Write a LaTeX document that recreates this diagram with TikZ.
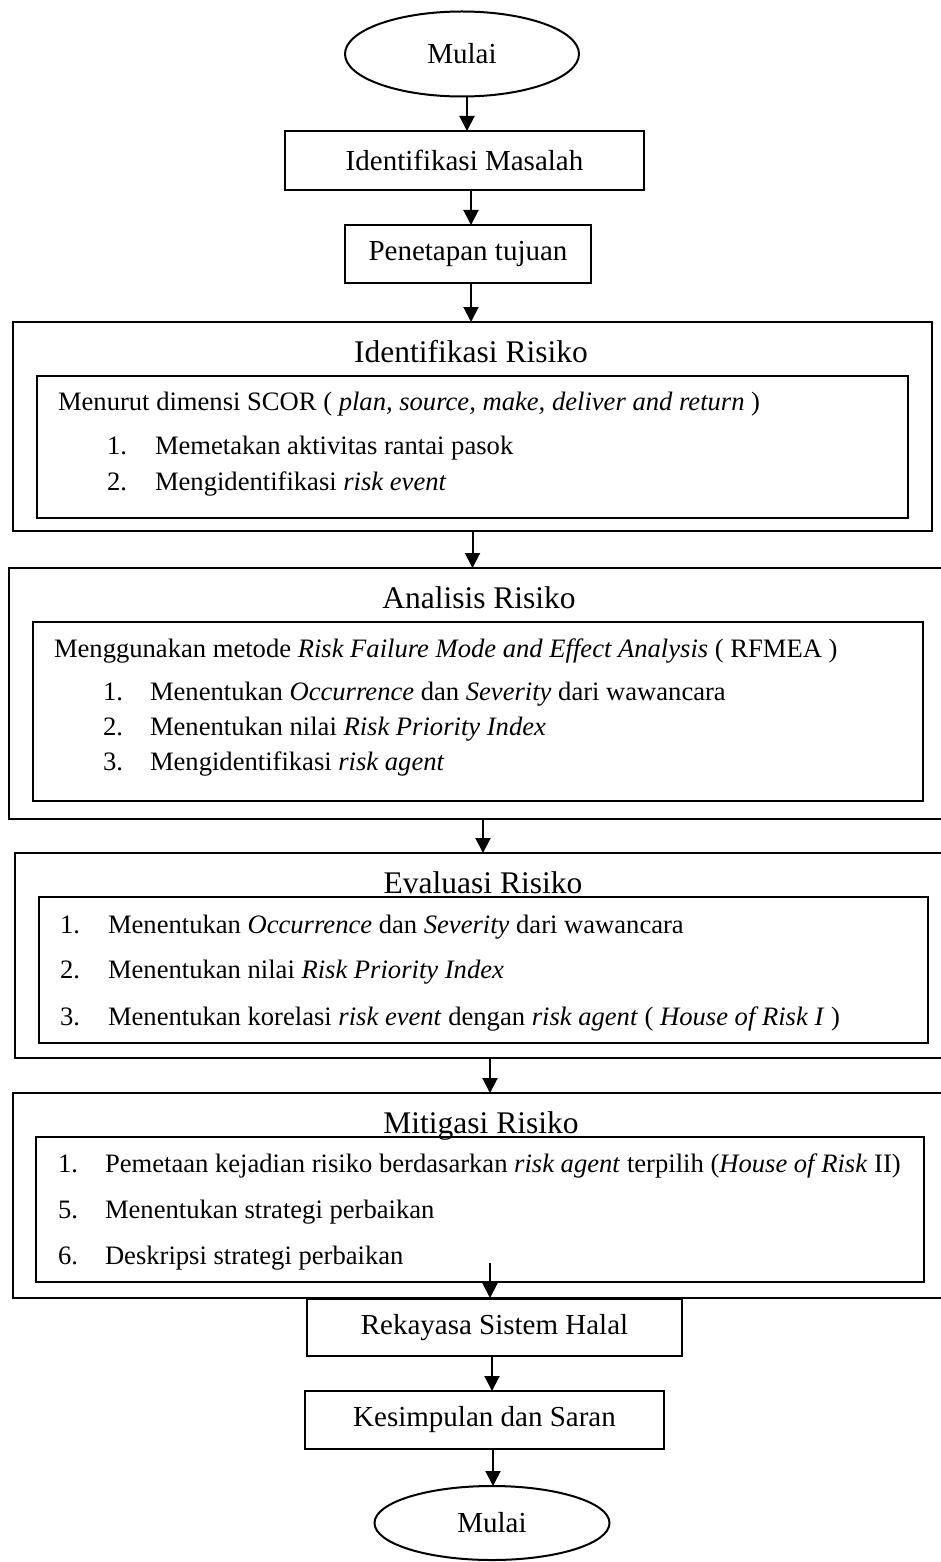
\documentclass[tikz,border=0pt]{standalone}
\usepackage{fontspec}
\setmainfont{Liberation Serif}
\usetikzlibrary{arrows.meta,shapes.geometric,calc}
\begin{document}
\begin{tikzpicture}[x=1pt,y=-1pt,
  every node/.style={inner sep=0pt, outer sep=0pt},
  box/.style={draw, line width=2pt, anchor=north west, font=\fontsize{29}{34}\selectfont, align=center},
  oval/.style={draw, ellipse, line width=2pt, font=\fontsize{29}{34}\selectfont},
  frame/.style={draw, line width=2.3pt, anchor=north west},
  ttl/.style={font=\fontsize{31.5}{36}\selectfont, anchor=base},
  txt/.style={font=\fontsize{26.6}{32}\selectfont, anchor=base west},
  arr/.style={line width=2pt, -{Triangle[length=15pt,width=15pt]}}]
\useasboundingbox (0,0) rectangle (941,1562);
\clip (0,0) rectangle (941,1562);
\fill[white] (0,0) rectangle (941,1562);

% top nodes
\node[oval, minimum width=234pt, minimum height=85pt] (start) at (462,54) {Mulai};
\node[box, minimum width=359pt, minimum height=59pt] (idm) at (285,131) {Identifikasi Masalah};
\node[box, minimum width=246pt, minimum height=58pt] (pt) at (345,225) {Penetapan tujuan};

% Identifikasi Risiko
\node[frame, minimum width=919pt, minimum height=209pt] (idr) at (13,322) {};
\node[frame, minimum width=871pt, minimum height=142pt] (idri) at (37,376) {};
\node[ttl] (idrt) at (471,362) {Identifikasi Risiko};
\node[txt] (idr0) at (58,410) {Menurut dimensi SCOR ( \textit{plan, source, make, deliver and return} )};
\node[txt] (idr1n) at (107,454) {1.};
\node[txt] (idr1) at (155,454) {Memetakan aktivitas rantai pasok};
\node[txt] (idr2n) at (107,490) {2.};
\node[txt] (idr2) at (155,490) {Mengidentifikasi \textit{risk event}};

% Analisis Risiko
\node[frame, minimum width=950pt, minimum height=251pt] (ana) at (9,568) {};
\node[frame, minimum width=890pt, minimum height=179pt] (anai) at (33,622) {};
\node[ttl] (anat) at (479,608) {Analisis Risiko};
\node[txt] (ana0) at (54,657) {Menggunakan metode \textit{Risk Failure Mode and Effect Analysis} ( RFMEA )};
\node[txt] (ana1n) at (103,700) {1.};
\node[txt] (ana1) at (150,700) {Menentukan \textit{Occurrence} dan \textit{Severity} dari wawancara};
\node[txt] (ana2n) at (103,735) {2.};
\node[txt] (ana2) at (150,735) {Menentukan nilai \textit{Risk Priority Index}};
\node[txt] (ana3n) at (103,770) {3.};
\node[txt] (ana3) at (150,770) {Mengidentifikasi \textit{risk agent}};

% Evaluasi Risiko
\node[frame, minimum width=944pt, minimum height=205pt] (eva) at (15,853) {};
\node[frame, minimum width=889pt, minimum height=146pt] (evai) at (39,897) {};
\node[ttl] (evat) at (483,893) {Evaluasi Risiko};
\node[txt] (eva1n) at (60,933) {1.};
\node[txt] (eva1) at (108,933) {Menentukan \textit{Occurrence} dan \textit{Severity} dari wawancara};
\node[txt] (eva2n) at (60,978) {2.};
\node[txt] (eva2) at (108,978) {Menentukan nilai \textit{Risk Priority Index}};
\node[txt] (eva3n) at (60,1025) {3.};
\node[txt] (eva3) at (108,1025) {Menentukan korelasi \textit{risk event} dengan \textit{risk agent} ( \textit{House of Risk I} )};

% Mitigasi Risiko
\node[frame, minimum width=946pt, minimum height=205pt] (mit) at (13,1093) {};
\node[frame, minimum width=888pt, minimum height=145pt] (miti) at (36,1137) {};
\node[ttl] (mitt) at (481,1133) {Mitigasi Risiko};
\node[txt] (mit1n) at (58,1172) {1.};
\node[txt] (mit1) at (105,1172) {Pemetaan kejadian risiko berdasarkan \textit{risk agent} terpilih (\textit{House of Risk} II)};
\node[txt] (mit5n) at (58,1218) {5.};
\node[txt] (mit5) at (105,1218) {Menentukan strategi perbaikan};
\node[txt] (mit6n) at (58,1264) {6.};
\node[txt] (mit6) at (105,1264) {Deskripsi strategi perbaikan};
\coordinate (m6) at (490,1263);

% bottom nodes
\node[box, minimum width=375pt, minimum height=57pt] (rek) at (307,1299) {Rekayasa Sistem Halal};
\node[box, minimum width=359pt, minimum height=58pt] (kes) at (305,1391) {Kesimpulan dan Saran};
\node[oval, minimum width=235pt, minimum height=74pt] (end) at (492,1523) {Mulai};

% connectors
\draw[arr] ([xshift=5pt]start.south) -- ([xshift=5pt]start.south |- idm.north);
\draw[arr] ([xshift=6.5pt]idm.south) -- ([xshift=6.5pt]idm.south |- pt.north);
\draw[arr] ([xshift=3pt]pt.south) -- ([xshift=3pt]pt.south |- idr.north);
\draw[arr] (idr.south) -- (idr.south |- ana.north);
\draw[arr] (483,819) coordinate (a5) -- (a5 |- eva.north);
\draw[arr] (490,1058) coordinate (a6) -- (a6 |- mit.north);
\draw[arr] (m6) -- (m6 |- mit.south);
\draw[arr] ([xshift=-2.5pt]rek.south) -- ([xshift=-2.5pt]rek.south |- kes.north);
\draw[arr] ([xshift=8.5pt]kes.south) -- ([xshift=8.5pt]kes.south |- end.north);
\end{tikzpicture}
\end{document}
